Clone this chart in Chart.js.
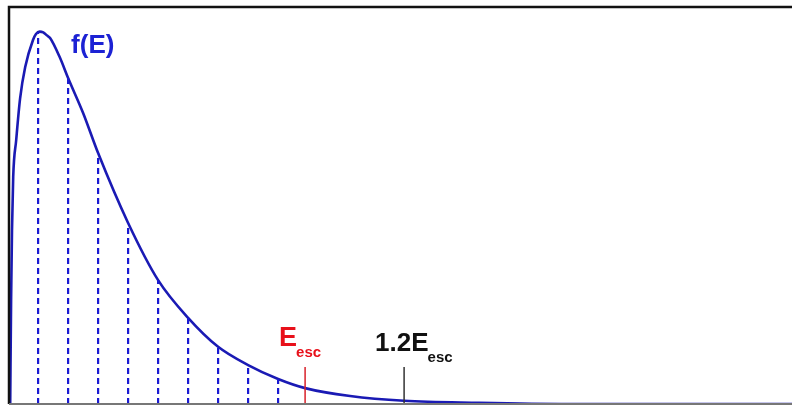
<!DOCTYPE html>
<html>
<head>
<meta charset="utf-8">
<script src="https://cdn.jsdelivr.net/npm/chart.js@4/dist/chart.umd.min.js"></script>
<style>
  html, body { margin: 0; padding: 0; background: #fff; }
  #wrap { width: 792px; height: 407px; }
</style>
</head>
<body>
<div id="wrap"><canvas id="distChart" width="792" height="407"></canvas></div>
<script>
// Distribution f(E) with the escape energy markers

// curve samples (E, f)
const curveE = [0.07, 0.1, 0.13, 0.17, 0.27, 0.4, 0.57, 0.83, 0.93, 1.05, 1.17, 1.3, 1.4, 1.73, 2, 2.5, 3, 4, 5, 6, 7, 8, 9, 9.9, 11.4, 13.2, 15.7, 18.7, 26.2];
const curveF = [0, 0.262, 0.438, 0.572, 0.665, 0.77, 0.849, 0.917, 0.932, 0.938, 0.936, 0.928, 0.922, 0.872, 0.821, 0.733, 0.632, 0.456, 0.312, 0.217, 0.144, 0.098, 0.063, 0.040, 0.020, 0.008, 0.003, 0, 0];

// dashed sampling lines
const sampleE = [1, 2, 3, 4, 5, 6, 7, 8, 9];
const sampleF = [0.936, 0.821, 0.632, 0.456, 0.312, 0.217, 0.144, 0.098, 0.063];

// markers
const escE = 9.9;
const escTop = 0.093;
const esc12E = 13.2;
const esc12Top = 0.093;

function toXY(xs, ys) {
    return xs.map((x, i) => ({ x: x, y: ys[i] }));
}

function verticals(xs, tops) {
    const pts = [];
    xs.forEach((x, i) => {
        pts.push({ x: x, y: 0 });
        pts.push({ x: x, y: tops[i] });
        pts.push({ x: x, y: null });
    });
    return pts;
}

// box around the plot (no right side)
const framePlugin = {
    id: 'frame',
    afterDraw(chart) {
        const ctx = chart.ctx;
        const a = chart.chartArea;
        ctx.save();
        ctx.strokeStyle = '#111';
        ctx.lineWidth = 2.5;
        ctx.beginPath();
        ctx.moveTo(792, a.top);
        ctx.lineTo(a.left, a.top);
        ctx.lineTo(a.left, a.bottom);
        ctx.stroke();
        ctx.strokeStyle = '#777';
        ctx.lineWidth = 2;
        ctx.beginPath();
        ctx.moveTo(a.left, a.bottom);
        ctx.lineTo(792, a.bottom);
        ctx.stroke();
        ctx.restore();
    }
};

// text labels placed at data positions
const labelPlugin = {
    id: 'labels',
    afterDraw(chart) {
        const ctx = chart.ctx;
        const xs = chart.scales.x, ys = chart.scales.y;
        ctx.save();
        ctx.textBaseline = 'alphabetic';
        ctx.textAlign = 'left';

        // f(E)
        ctx.fillStyle = '#1c22d4';
        ctx.font = 'bold 26px "Liberation Sans", Arial, sans-serif';
        ctx.fillText('f(E)', xs.getPixelForValue(2.1), ys.getPixelForValue(0.883));

        // E_esc
        let x = xs.getPixelForValue(escE) - 26;
        let y = ys.getPixelForValue(escTop) - 21;
        ctx.fillStyle = '#e8101a';
        ctx.font = 'bold 27px "Liberation Sans", Arial, sans-serif';
        ctx.fillText('E', x, y);
        let w = ctx.measureText('E').width;
        ctx.font = 'bold 15px "Liberation Sans", Arial, sans-serif';
        ctx.fillText('esc', x + w - 1, y + 11);

        // 1.2 E_esc
        x = xs.getPixelForValue(esc12E) - 29;
        y = ys.getPixelForValue(esc12Top) - 16;
        ctx.fillStyle = '#111';
        ctx.font = 'bold 26px "Liberation Sans", Arial, sans-serif';
        ctx.fillText('1.2E', x, y);
        w = ctx.measureText('1.2E').width;
        ctx.font = 'bold 15px "Liberation Sans", Arial, sans-serif';
        ctx.fillText('esc', x + w - 1, y + 11);
        ctx.restore();
    }
};

new Chart(document.getElementById('distChart').getContext('2d'), {
    type: 'line',
    data: {
        datasets: [
            {
                label: 'samples',
                data: verticals(sampleE, sampleF),
                borderColor: '#1a1ad2',
                borderWidth: 2.2,
                borderDash: [6, 4],
                pointRadius: 0,
                spanGaps: false,
                tension: 0
            },
            {
                label: 'Eesc',
                data: [{ x: escE, y: 0 }, { x: escE, y: escTop }],
                borderColor: '#d8202a',
                borderWidth: 1.5,
                pointRadius: 0
            },
            {
                label: '1.2Eesc',
                data: [{ x: esc12E, y: 0 }, { x: esc12E, y: esc12Top }],
                borderColor: '#333',
                borderWidth: 1.5,
                pointRadius: 0
            },
            {
                label: 'f(E)',
                data: toXY(curveE, curveF),
                borderColor: '#1a1ab4',
                borderWidth: 2.6,
                pointRadius: 0,
                cubicInterpolationMode: 'monotone'
            }
        ]
    },
    options: {
        responsive: false,
        animation: false,
        layout: { padding: { left: 9, top: 7, right: 0, bottom: 3 } },
        plugins: { legend: { display: false }, tooltip: { enabled: false } },
        scales: {
            x: { type: 'linear', min: 0.03, max: 26.13, display: false },
            y: { type: 'linear', min: 0, max: 1, display: false }
        }
    },
    plugins: [framePlugin, labelPlugin]
});
</script>
</body>
</html>
